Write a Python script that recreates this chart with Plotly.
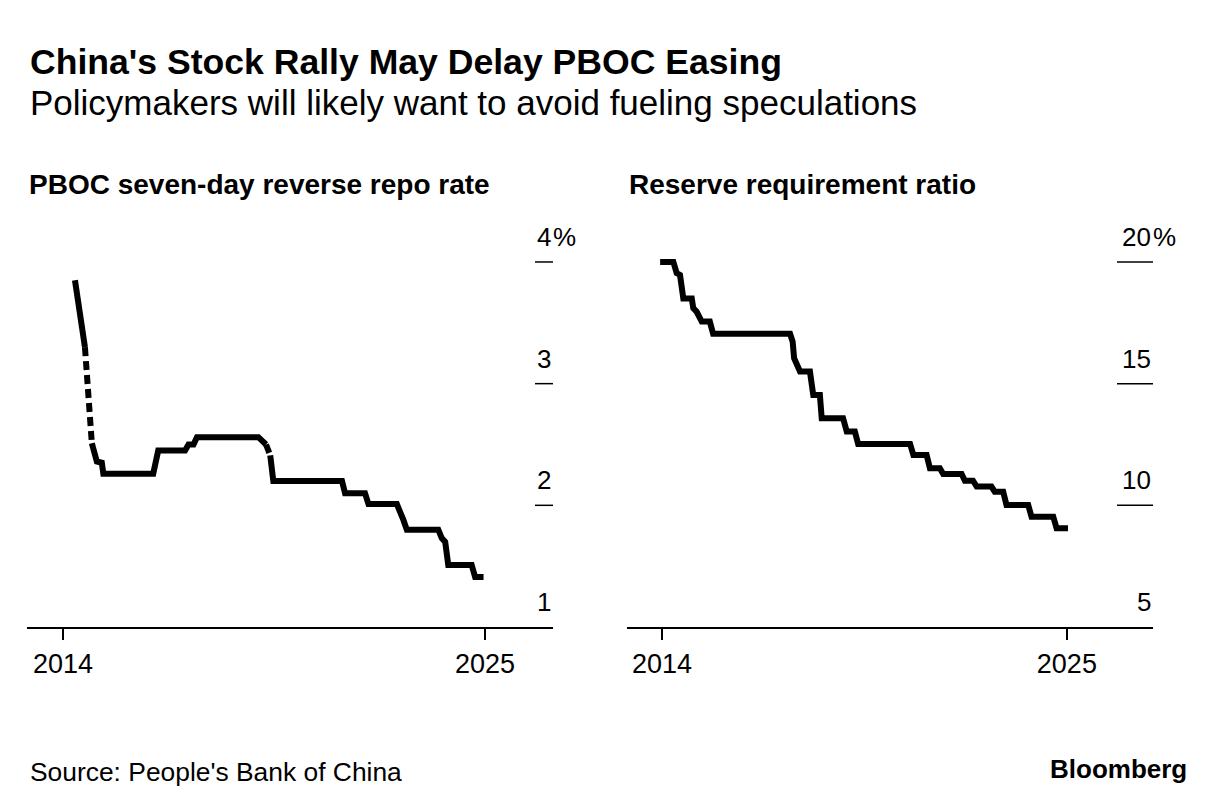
import plotly.graph_objects as go

# ---------------- data ----------------
# PBOC seven-day reverse repo rate (%), solid segments separated by None (gaps)
repo_years = [2014.31, 2014.44, 2014.57, None,
              2014.75, 2014.83, 2014.88, 2015.01, 2015.05, 2016.35, 2016.48, 2017.18,
              2017.22, 2017.27, 2017.40, 2017.49, 2019.09, 2019.18, 2019.29, None,
              2019.40, 2019.48, 2021.27, 2021.35, 2021.87, 2021.96, 2022.70, 2022.79,
              2022.87, 2022.96, 2023.78, 2023.87, 2023.96, 2024.04, 2024.65, 2024.74,
              2024.96]
repo_rate = [3.85, 3.58, 3.30, None,
             2.51, 2.44, 2.36, 2.35, 2.26, 2.26, 2.45, 2.45,
             2.48, 2.50, 2.50, 2.56, 2.56, 2.53, 2.50, None,
             2.41, 2.20, 2.20, 2.10, 2.10, 2.01, 2.01, 1.92,
             1.88, 1.80, 1.80, 1.73, 1.70, 1.51, 1.51, 1.41,
             1.41]
# periods without data (drawn dashed)
gap_years = [2014.57, 2014.75, None, 2019.29, 2019.40]
gap_rate = [3.30, 2.51, None, 2.50, 2.41]

# Reserve requirement ratio (%)
rrr_years = [2013.95, 2014.31, 2014.40, 2014.49, 2014.58, 2014.81, 2014.85, 2014.94,
             2015.08, 2015.30, 2015.39, 2017.48, 2017.55, 2017.59, 2017.75, 2018.02,
             2018.11, 2018.29, 2018.34, 2018.92, 2019.02, 2019.24, 2019.33, 2020.74,
             2020.83, 2021.19, 2021.28, 2021.55, 2021.64, 2022.14, 2022.23, 2022.45,
             2022.55, 2022.95, 2023.04, 2023.27, 2023.36, 2023.95, 2024.04, 2024.63,
             2024.72, 2025.03]
rrr_ratio = [20.0, 20.0, 19.54, 19.47, 18.5, 18.5, 18.1, 17.96,
             17.55, 17.55, 17.05, 17.05, 16.73, 16.04, 15.5, 15.5,
             14.53, 14.53, 13.58, 13.58, 13.03, 13.03, 12.52, 12.52,
             12.07, 12.07, 11.52, 11.52, 11.29, 11.29, 11.01, 11.01,
             10.77, 10.77, 10.56, 10.56, 10.01, 10.01, 9.53, 9.53,
             9.06, 9.06]

x_tickvals = [2014, 2025]
x_ticktext = ["2014", "2025"]
left_yticks = [1, 2, 3, 4]
left_ylabels = ["1", "2", "3", "4"]
right_yticks = [5, 10, 15, 20]
right_ylabels = ["5", "10", "15", "20"]

title = "China's Stock Rally May Delay PBOC Easing"
subtitle = "Policymakers will likely want to avoid fueling speculations"
left_title = "PBOC seven-day reverse repo rate"
right_title = "Reserve requirement ratio"
source = "Source: People's Bank of China"

# ---------------- layout ----------------
W, H = 1227, 812
FONT = "Liberation Sans, Arial, Helvetica, sans-serif"
BLACK = "#000000"
LW = 6


def px(x):
    return x / W


def py(y):
    return 1 - y / H


ydom = [py(627), py(249.8)]
left_dom = [px(27), px(553)]
right_dom = [px(627), px(1153)]

fig = go.Figure()
fig.add_trace(go.Scatter(x=repo_years, y=repo_rate, mode="lines",
                         line=dict(color=BLACK, width=LW), connectgaps=False,
                         xaxis="x", yaxis="y", hoverinfo="skip"))
fig.add_trace(go.Scatter(x=gap_years, y=gap_rate, mode="lines",
                         line=dict(color=BLACK, width=LW, dash="9px,5px"),
                         connectgaps=False, xaxis="x", yaxis="y", hoverinfo="skip"))
fig.add_trace(go.Scatter(x=rrr_years, y=rrr_ratio, mode="lines",
                         line=dict(color=BLACK, width=LW),
                         xaxis="x2", yaxis="y2", hoverinfo="skip"))

xcommon = dict(tickvals=x_tickvals, ticktext=x_ticktext, ticks="outside", ticklen=11,
               tickwidth=1.5, tickcolor=BLACK, showline=True, linecolor=BLACK,
               linewidth=1.5, showgrid=False, zeroline=False, fixedrange=True,
               tickfont=dict(family=FONT, size=27, color=BLACK), ticklabelstandoff=1)
ycommon = dict(showticklabels=False, showgrid=False, zeroline=False, showline=False,
               ticks="", fixedrange=True, domain=ydom)

fig.update_layout(
    width=W, height=H, margin=dict(l=0, r=0, t=0, b=0),
    paper_bgcolor="white", plot_bgcolor="white", showlegend=False,
    font=dict(family=FONT, color=BLACK),
    xaxis=dict(domain=left_dom, range=[2013.06, 2026.77], anchor="y", **xcommon),
    yaxis=dict(range=[1, 4.1], anchor="x", **ycommon),
    xaxis2=dict(domain=right_dom, range=[2013.05, 2027.34], anchor="y2", **xcommon),
    yaxis2=dict(range=[5, 20.5], anchor="x2", **ycommon),
)

ann = []
ann.append(dict(text="<b>" + title + "</b>", x=px(28), y=py(62), xref="paper", yref="paper",
                xanchor="left", yanchor="middle", showarrow=False,
                font=dict(family=FONT, size=35.6, color=BLACK)))
ann.append(dict(text=subtitle, x=px(28), y=py(102), xref="paper", yref="paper",
                xanchor="left", yanchor="middle", showarrow=False,
                font=dict(family=FONT, size=35, color=BLACK)))
ann.append(dict(text="<b>" + left_title + "</b>", x=px(27), y=py(185), xref="paper", yref="paper",
                xanchor="left", yanchor="middle", showarrow=False,
                font=dict(family=FONT, size=28, color=BLACK)))
ann.append(dict(text="<b>" + right_title + "</b>", x=px(627), y=py(185), xref="paper", yref="paper",
                xanchor="left", yanchor="middle", showarrow=False,
                font=dict(family=FONT, size=28, color=BLACK)))
ann.append(dict(text=source, x=px(28), y=py(772), xref="paper", yref="paper",
                xanchor="left", yanchor="middle", showarrow=False,
                font=dict(family=FONT, size=26.4, color=BLACK)))
ann.append(dict(text="<b>Bloomberg</b>", x=px(1189), y=py(769), xref="paper", yref="paper",
                xanchor="right", yanchor="middle", showarrow=False,
                font=dict(family=FONT, size=26, color=BLACK)))

shapes = []
for yref, ticks, labels, xr, dash_x0, top in [
        ("y", left_yticks, left_ylabels, px(552), px(535), 4),
        ("y2", right_yticks, right_ylabels, px(1152), px(1117), 20)]:
    for v, lab in zip(ticks, labels):
        ann.append(dict(text=lab, x=xr, y=v, xref="paper", yref=yref, xanchor="right",
                        yanchor="middle", yshift=25, showarrow=False, borderpad=0,
                        font=dict(family=FONT, size=26, color=BLACK)))
        if v == top:
            ann.append(dict(text="%", x=xr, y=v, xref="paper", yref=yref, xanchor="left",
                            yanchor="middle", yshift=25, showarrow=False, borderpad=0,
                            font=dict(family=FONT, size=26, color=BLACK)))
        if v != ticks[0]:
            shapes.append(dict(type="line", xref="paper", yref=yref, x0=dash_x0,
                               x1=xr + px(1), y0=v, y1=v,
                               line=dict(color=BLACK, width=1.5)))

fig.update_layout(annotations=ann, shapes=shapes)
fig.write_html("out.html", config={"displayModeBar": False},
               post_script="document.body.style.margin='0px';document.body.style.padding='0px';")
